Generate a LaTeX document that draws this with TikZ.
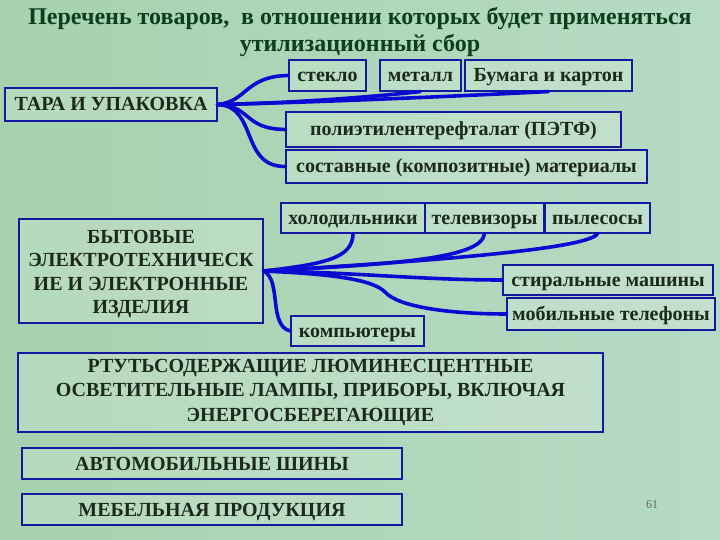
\documentclass[tikz,border=0pt]{standalone}
\usepackage{fontspec}
\setmainfont{Liberation Serif}
\definecolor{bgA}{HTML}{A6D2AE}
\definecolor{bgB}{HTML}{C6DEA8}
\definecolor{bgC}{HTML}{B6DBC4}
\definecolor{boxblue}{HTML}{1418A0}
\definecolor{linkblue}{HTML}{0A0AD2}
\definecolor{txt}{HTML}{1B2A1B}
\definecolor{ttl}{HTML}{0C3E1E}
\begin{document}
\begin{tikzpicture}[x=1pt,y=-1pt,
  boxbase/.style={draw=boxblue, line width=1.1pt, fill=white, fill opacity=0.18, text opacity=1,
    inner sep=0pt, font=\bfseries\fontsize{20}{23.5}\selectfont, text=txt},
  box/.style={boxbase, text height=15pt, text depth=2pt},
  multibox/.style={boxbase, align=center},
  link/.style={draw=linkblue, line width=3.6pt, line cap=round}]
\useasboundingbox (0,0) rectangle (720,540);
\shade[left color=bgA, middle color=bgB, right color=bgC] (0,0) rectangle (720,540);

% title
\node[font=\bfseries\fontsize{24}{27}\selectfont, text=ttl, align=center] (title) at (360,32)
  {Перечень товаров,\ \ в отношении которых будет применяться\\утилизационный сбор};

% packaging group
\node[box, minimum width=212pt, minimum height=33pt] (tara) at (111,104.5) {ТАРА И УПАКОВКА};
\node[box, minimum width=77pt, minimum height=31pt] (glass) at (327.5,75.5) {стекло};
\node[box, minimum width=81pt, minimum height=31pt] (metal) at (420.5,75.5) {металл};
\node[box, minimum width=167pt, minimum height=31pt] (paper) at (548.5,75.5) {Бумага и картон};
\node[box, minimum width=335pt, minimum height=35pt] (pet) at (453.5,129.5) {полиэтилентерефталат (ПЭТФ)};
\node[box, minimum width=361pt, minimum height=33pt] (comp) at (466.5,166.5) {составные (композитные) материалы};

\draw[link] (tara.east) .. controls (247,102) and (245,76) .. (glass.west);
\draw[link] (tara.east) .. controls (300,103) and (380,96) .. (metal.south);
\draw[link] (tara.east) .. controls (330,102) and (480,95) .. (paper.south);
\draw[link] (tara.east) .. controls (252,106) and (243,129) .. (pet.west);
\draw[link] (tara.east) .. controls (258,106) and (240,167) .. (comp.west);

% electrical group
\node[multibox, minimum width=244pt, minimum height=104pt, text height=90pt] (byt) at (141,271)
  {БЫТОВЫЕ\\ЭЛЕКТРОТЕХНИЧЕСК\\ИЕ И ЭЛЕКТРОННЫЕ\\ИЗДЕЛИЯ};
\node[box, minimum width=144pt, minimum height=30pt] (fridge) at (353,218) {холодильники};
\node[box, minimum width=119pt, minimum height=30pt] (tv) at (484.5,218) {телевизоры};
\node[box, minimum width=105pt, minimum height=30pt] (vac) at (597.5,218) {пылесосы};
\node[box, minimum width=210pt, minimum height=30pt] (wash) at (608,280) {стиральные машины};
\node[box, minimum width=208pt, minimum height=32pt] (mob) at (611,314) {мобильные телефоны};
\node[box, minimum width=133pt, minimum height=30pt] (pc) at (357.5,331) {компьютеры};

\draw[link] (byt.east) .. controls (325,264) and (353,258) .. (fridge.south);
\draw[link] (byt.east) .. controls (400,264) and (482,258) .. (tv.south);
\draw[link] (byt.east) .. controls (450,260) and (590,248) .. (vac.south);
\draw[link] (byt.east) .. controls (350,272) and (420,280) .. (wash.west);
\draw[link] (byt.east) .. controls (330,274) and (372,279) .. (385,292)
  .. controls (398,307) and (450,314) .. (mob.west);
\draw[link] (byt.east) .. controls (282,280) and (268,326) .. (pc.west);

% other categories
\node[multibox, minimum width=585pt, minimum height=79pt,
  font=\bfseries\fontsize{20}{24.5}\selectfont] (lamp) at (310.5,392.5)
  {РТУТЬСОДЕРЖАЩИЕ ЛЮМИНЕСЦЕНТНЫЕ\\ОСВЕТИТЕЛЬНЫЕ ЛАМПЫ, ПРИБОРЫ, ВКЛЮЧАЯ\\ЭНЕРГОСБЕРЕГАЮЩИЕ};
\node[box, minimum width=380pt, minimum height=31pt] (tyre) at (212,463.5) {АВТОМОБИЛЬНЫЕ ШИНЫ};
\node[box, minimum width=380pt, minimum height=31pt] (furn) at (212,509.5) {МЕБЕЛЬНАЯ ПРОДУКЦИЯ};

\node[font=\fontsize{12}{14}\selectfont, text=black!60] (pg) at (652,505) {61};
\end{tikzpicture}
\end{document}
